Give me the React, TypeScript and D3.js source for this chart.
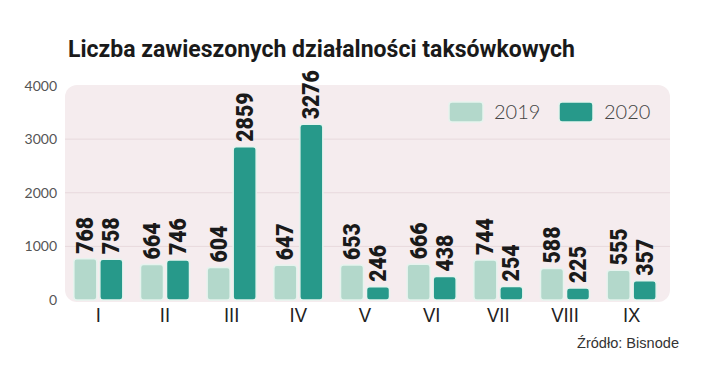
import React from "react";
import * as d3 from "d3";

const categories = ["I", "II", "III", "IV", "V", "VI", "VII", "VIII", "IX"];
const values2019 = [768, 664, 604, 647, 653, 666, 744, 588, 555];
const values2020 = [758, 746, 2859, 3276, 246, 438, 254, 225, 357];
const yTicks = [0, 1000, 2000, 3000, 4000];
const seriesNames = ["2019", "2020"];

const W = 720;
const H = 381;
const C2019 = "#b3d8cb";
const C2020 = "#27998a";

export default function App() {
  const x = d3.scaleBand<string>().domain(categories).range([65, 665]);
  const y = d3.scaleLinear().domain([0, 4000]).range([300, 85.5]);
  const bw = 23;
  const labelFont = "'Roboto', 'DejaVu Sans', sans-serif";

  const bars: React.ReactNode[] = [];
  categories.forEach((c, i) => {
    const cx = (x(c) as number) + x.bandwidth() / 2;
    [values2019[i], values2020[i]].forEach((v, k) => {
      const x0 = k === 0 ? cx - 24.5 : cx + 1.5;
      const top = y(v);
      const s = String(v);
      bars.push(
        <g key={c + k}>
          <rect
            x={x0}
            y={top}
            width={bw}
            height={y(0) - top}
            rx={3}
            fill={k === 0 ? C2019 : C2020}
            stroke="#e6f3ee"
            strokeWidth={1.5}
          />
          <text
            transform={`translate(${x0 + bw / 2 + 8},${top - 5}) rotate(-90)`}
            fontFamily={labelFont}
            fontWeight={900}
            fontSize={24}
            fill="#1a1a1a"
            textLength={s.length * 12.3}
            lengthAdjust="spacingAndGlyphs"
          >
            {s}
          </text>
        </g>
      );
    });
  });

  return (
    <svg width={W} height={H} style={{ position: "absolute", left: 0, top: 0, background: "#fff" }}>
      <rect x={0} y={0} width={W} height={H} fill="#ffffff" />
      <text
        x={68}
        y={57}
        fontFamily={labelFont}
        fontWeight={700}
        fontSize={23}
        fill="#1a1a1a"
        textLength={507}
        lengthAdjust="spacingAndGlyphs"
      >
        Liczba zawieszonych działalności taksówkowych
      </text>
      <rect x={65} y={85} width={605} height={217} rx={12} fill="#f5ecee" />
      {yTicks.slice(1, 4).map((t) => (
        <line key={t} x1={65} x2={670} y1={y(t)} y2={y(t)} stroke="#e7d9dc" strokeWidth={1} />
      ))}
      {yTicks.map((t) => (
        <text
          key={t}
          x={57}
          y={y(t) + 5}
          textAnchor="end"
          fontFamily="'Lato', sans-serif"
          fontSize={14}
          fill="#555"
        >
          {t}
        </text>
      ))}
      {bars}
      {categories.map((c) => (
        <text
          key={c}
          x={(x(c) as number) + x.bandwidth() / 2}
          y={322}
          textAnchor="middle"
          fontFamily="'Liberation Sans', Arial, sans-serif"
          fontSize={21}
          fill="#222"
          transform={`translate(${((x(c) as number) + x.bandwidth() / 2) * 0.12},0) scale(0.88,1)`}
        >
          {c}
        </text>
      ))}
      {seriesNames.map((n, k) => {
        const sx = k === 0 ? 449 : 559;
        return (
          <g key={n}>
            <rect
              x={sx}
              y={102}
              width={34}
              height={20}
              rx={3}
              fill={k === 0 ? C2019 : C2020}
              stroke="#e6f3ee"
              strokeWidth={1.5}
            />
            <text
              x={sx + 45}
              y={119}
              fontFamily="'Lato', sans-serif"
              fontWeight={300}
              fontSize={20}
              fill="#444"
            >
              {n}
            </text>
          </g>
        );
      })}
      <text
        x={679}
        y={348}
        textAnchor="end"
        fontFamily="'Liberation Sans', Arial, sans-serif"
        fontSize={14}
        fill="#333"
        textLength={102}
        lengthAdjust="spacingAndGlyphs"
      >
        Źródło: Bisnode
      </text>
    </svg>
  );
}
